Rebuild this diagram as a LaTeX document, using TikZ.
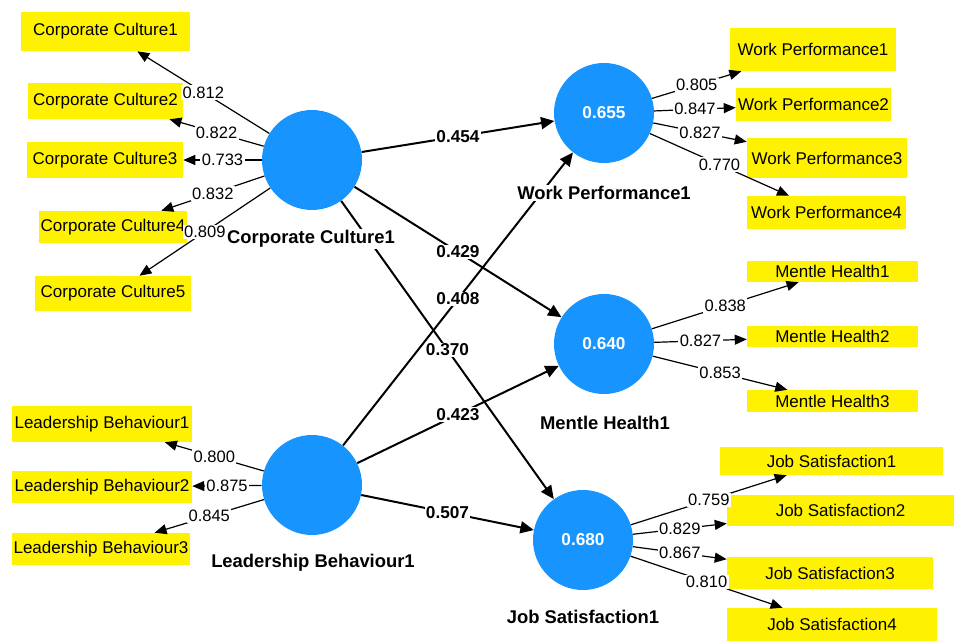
\documentclass[tikz,border=0pt]{standalone}
\usepackage{fontspec}
\setmainfont{Liberation Sans}
\usepackage{tikz}
\usetikzlibrary{arrows.meta}
\tikzset{lv/.style = {fill = sblue, circle, inner sep = 0, minimum size = 75pt, text = white, font = \fontsize{12.9}{14}\selectfont\bfseries}}
\tikzset{ind/.style = {fill = yellow, inner sep = 0, font = \fontsize{12.75}{14}\selectfont}}
\tikzset{lvname/.style = {fill = white, inner sep = 1pt, font = \fontsize{13.8}{15}\selectfont\bfseries}}
\tikzset{struct/.style = {line width = 1.5pt, -{Triangle[length = 10pt, width = 9pt]}}}
\tikzset{load/.style = {line width = 0.9pt, -{Triangle[length = 9pt, width = 7.5pt]}}}
\tikzset{pval/.style = {fill = white, inner sep = 1pt, font = \fontsize{12.9}{14}\selectfont\bfseries}}
\tikzset{lval/.style = {fill = white, inner sep = 1pt, font = \fontsize{12.4}{14}\selectfont}}
\definecolor{sblue}{RGB}{24, 148, 255}

\begin{document}
\begin{tikzpicture}[x = 0.75pt, y = -0.75pt]
      \fill [white] (0, 0) rectangle (954, 641);
      \useasboundingbox (0, 0) rectangle (954, 641);

      % latent variables
      \node [lv] (cc) at (312, 160) {};
      \node [lv] (lb) at (312, 485) {};
      \node [lv] (wp) at (604, 113) {0.655};
      \node [lv] (mh) at (604, 344) {0.640};
      \node [lv] (js) at (583, 540) {0.680};

      % indicators
      \node [ind, minimum width = 126.75pt, minimum height = 29.25pt] (cc1) at (105.5, 31.5) {Corporate Culture1};
      \node [ind, minimum width = 116.25pt, minimum height = 27pt] (cc2) at (105.5, 101) {Corporate Culture2};
      \node [ind, minimum width = 117pt, minimum height = 27pt] (cc3) at (105, 160) {Corporate Culture3};
      \node [ind, minimum width = 111pt, minimum height = 24pt] (cc4) at (113, 227) {Corporate Culture4};
      \node [ind, minimum width = 117pt, minimum height = 26.25pt] (cc5) at (113, 293.5) {Corporate Culture5};

      \node [ind, minimum width = 135pt, minimum height = 27pt] (lb1) at (102, 424) {Leadership Behaviour1};
      \node [ind, minimum width = 135pt, minimum height = 24pt] (lb2) at (102, 487) {Leadership Behaviour2};
      \node [ind, minimum width = 133.5pt, minimum height = 24pt] (lb3) at (101, 549) {Leadership Behaviour3};

      \node [ind, minimum width = 124.5pt, minimum height = 32.25pt] (wp1) at (813, 49.5) {Work Performance1};
      \node [ind, minimum width = 116.25pt, minimum height = 24.75pt] (wp2) at (813.5, 104.5) {Work Performance2};
      \node [ind, minimum width = 120pt, minimum height = 30pt] (wp3) at (827, 158) {Work Performance3};
      \node [ind, minimum width = 119.25pt, minimum height = 24.75pt] (wp4) at (826.5, 212.5) {Work Performance4};

      \node [ind, minimum width = 128.25pt, minimum height = 15.75pt] (mh1) at (832.5, 271.5) {Mentle Health1};
      \node [ind, minimum width = 128.25pt, minimum height = 15.75pt] (mh2) at (832.5, 336.5) {Mentle Health2};
      \node [ind, minimum width = 128.25pt, minimum height = 16.5pt] (mh3) at (832.5, 401) {Mentle Health3};

      \node [ind, minimum width = 167.25pt, minimum height = 21pt] (js1) at (831.5, 461) {Job Satisfaction1};
      \node [ind, minimum width = 170.25pt, minimum height = 23.25pt] (js2) at (840.5, 510.5) {Job Satisfaction2};
      \node [ind, minimum width = 154.5pt, minimum height = 24pt] (js3) at (830, 573) {Job Satisfaction3};
      \node [ind, minimum width = 157.5pt, minimum height = 24.75pt] (js4) at (832, 624.5) {Job Satisfaction4};

      % outer loadings
      \draw [load] (cc) -- node [lval] {0.812} (cc1);
      \draw [load] (cc) -- node [lval] {0.822} (cc2);
      \draw [load] (cc) -- node [lval] {0.733} (cc3);
      \draw [load] (cc) -- node [lval] {0.832} (cc4);
      \draw [load] (cc) -- node [lval] {0.809} (cc5);

      \draw [load] (lb) -- node [lval] {0.800} (lb1);
      \draw [load] (lb) -- node [lval] {0.875} (lb2);
      \draw [load] (lb) -- node [lval] {0.845} (lb3);

      \draw [load] (wp) -- node [lval] {0.805} (wp1);
      \draw [load] (wp) -- node [lval] {0.847} (wp2);
      \draw [load] (wp) -- node [lval] {0.827} (wp3);
      \draw [load] (wp) -- node [lval] {0.770} (wp4);

      \draw [load] (mh) -- node [lval] {0.838} (mh1);
      \draw [load] (mh) -- node [lval] {0.827} (mh2);
      \draw [load] (mh) -- node [lval] {0.853} (mh3);

      \draw [load] (js) -- node [lval] {0.759} (js1);
      \draw [load] (js) -- node [lval] {0.829} (js2);
      \draw [load] (js) -- node [lval] {0.867} (js3);
      \draw [load] (js) -- node [lval] {0.810} (js4);

      % path coefficients
      \draw [struct] (cc) -- node [pval] {0.454} (wp);
      \draw [struct] (cc) -- node [pval] {0.429} (mh);
      \draw [struct] (cc) -- node [pval] {0.370} (js);
      \draw [struct] (lb) -- node [pval] {0.408} (wp);
      \draw [struct] (lb) -- node [pval] {0.423} (mh);
      \draw [struct] (lb) -- node [pval] {0.507} (js);

      % names
      \node [lvname] (ccname) at (311, 239) {Corporate Culture1};
      \node [lvname] (lbname) at (313, 563) {Leadership Behaviour1};
      \node [lvname] (wpname) at (604, 193) {Work Performance1};
      \node [lvname] (mhname) at (605, 423) {Mentle Health1};
      \node [lvname] (jsname) at (583, 617) {Job Satisfaction1};
    \end{tikzpicture}
\end{document}
